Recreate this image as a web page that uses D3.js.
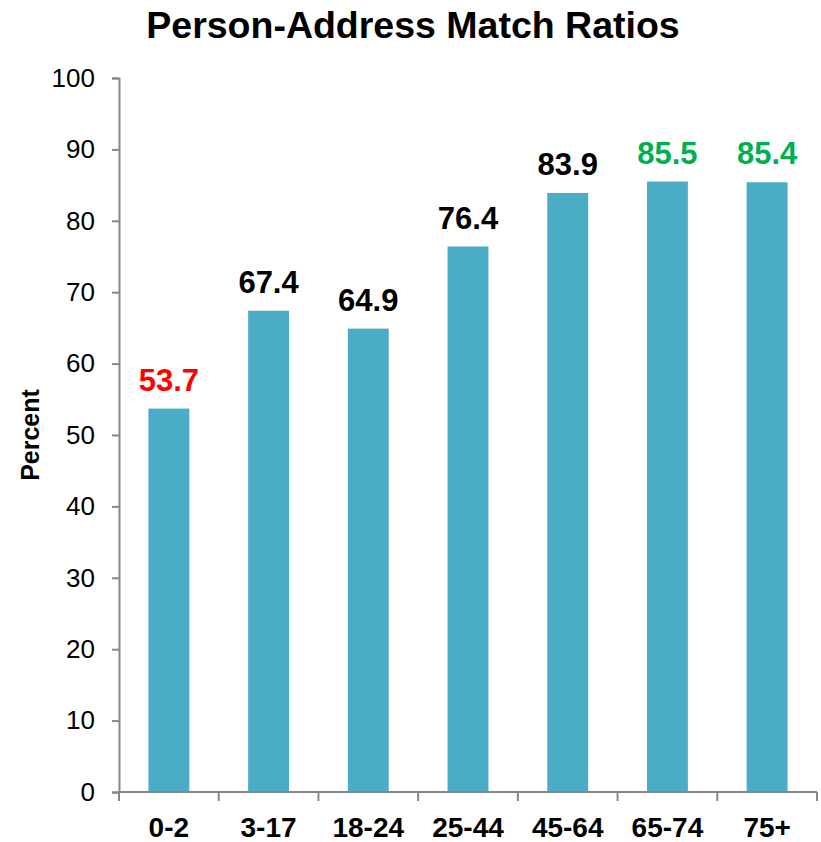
<!DOCTYPE html>
<html>
<head>
<meta charset="utf-8">
<script src="https://cdn.jsdelivr.net/npm/d3@7"></script>
<style>
  body { margin: 0; background: #fff; }
  svg { font-family: "Liberation Sans", Arial, sans-serif; }
</style>
</head>
<body>
<svg id="chart" width="821" height="842"></svg>
<script>
// Person-Address match ratios by age group
const ageGroups = ['0-2', '3-17', '18-24', '25-44', '45-64', '65-74', '75+'];
const matchRatios = [53.7, 67.4, 64.9, 76.4, 83.9, 85.5, 85.4];
const labelColors = ['#ff0000', '#000', '#000', '#000', '#000', '#00b050', '#00b050'];
const yTicks = [0, 10, 20, 30, 40, 50, 60, 70, 80, 90, 100];

const svg = d3.select('#chart');
const margin = { top: 78, right: 4, bottom: 50, left: 119 };
const width = 821, height = 842;
const axisColor = '#878787';

const xScale = d3.scaleBand()
  .domain(ageGroups)
  .range([margin.left, width - margin.right]);

const yScale = d3.scaleLinear()
  .domain([0, 100])
  .range([height - margin.bottom, margin.top]);

const barWidth = xScale.bandwidth() * 0.41;
const data = ageGroups.map((g, i) => ({ group: g, value: matchRatios[i], color: labelColors[i] }));

// Bars
svg.selectAll('.bar')
  .data(data)
  .enter()
  .append('rect')
  .attr('class', 'bar')
  .attr('x', d => xScale(d.group) + (xScale.bandwidth() - barWidth) / 2)
  .attr('y', d => yScale(d.value))
  .attr('width', barWidth)
  .attr('height', d => yScale(0) - yScale(d.value))
  .attr('fill', '#4bacc6');

// Value labels
svg.selectAll('.label')
  .data(data)
  .enter()
  .append('text')
  .attr('class', 'label')
  .attr('x', d => xScale(d.group) + xScale.bandwidth() / 2)
  .attr('y', d => yScale(d.value) - 18)
  .attr('text-anchor', 'middle')
  .attr('font-size', 31)
  .attr('font-weight', 'bold')
  .attr('fill', d => d.color)
  .text(d => d.value.toFixed(1));

// Y axis
const yAxis = d3.axisLeft(yScale)
  .tickValues(yTicks)
  .tickSize(7)
  .tickPadding(17);

const yG = svg.append('g')
  .attr('transform', `translate(${margin.left},0)`)
  .call(yAxis);
yG.selectAll('path, line').attr('stroke', axisColor).attr('stroke-width', 2);
yG.selectAll('text')
  .attr('font-size', 26)
  .attr('font-family', '"Liberation Sans", Arial, sans-serif')
  .attr('fill', '#000');

// X axis: line with ticks at category boundaries
const xG = svg.append('g')
  .attr('transform', `translate(0,${yScale(0)})`);
xG.append('line')
  .attr('x1', margin.left)
  .attr('x2', width - margin.right)
  .attr('stroke', axisColor)
  .attr('stroke-width', 2);
const boundaries = ageGroups.map(g => xScale(g)).concat([xScale.range()[1]]);
xG.selectAll('.xtick')
  .data(boundaries)
  .enter()
  .append('line')
  .attr('class', 'xtick')
  .attr('x1', d => d)
  .attr('x2', d => d)
  .attr('y1', 0)
  .attr('y2', 9)
  .attr('stroke', axisColor)
  .attr('stroke-width', 2);
xG.selectAll('.xlabel')
  .data(ageGroups)
  .enter()
  .append('text')
  .attr('class', 'xlabel')
  .attr('x', d => xScale(d) + xScale.bandwidth() / 2)
  .attr('y', 45)
  .attr('text-anchor', 'middle')
  .attr('font-size', 28)
  .attr('font-weight', 'bold')
  .text(d => d);

// Y axis title
svg.append('text')
  .attr('transform', 'rotate(-90)')
  .attr('x', -435)
  .attr('y', 39)
  .attr('text-anchor', 'middle')
  .attr('font-size', 25)
  .attr('font-weight', 'bold')
  .text('Percent');

// Chart title
svg.append('text')
  .attr('x', 413)
  .attr('y', 38)
  .attr('text-anchor', 'middle')
  .attr('font-size', 37.5)
  .attr('font-weight', 'bold')
  .text('Person-Address Match Ratios');
</script>
</body>
</html>
